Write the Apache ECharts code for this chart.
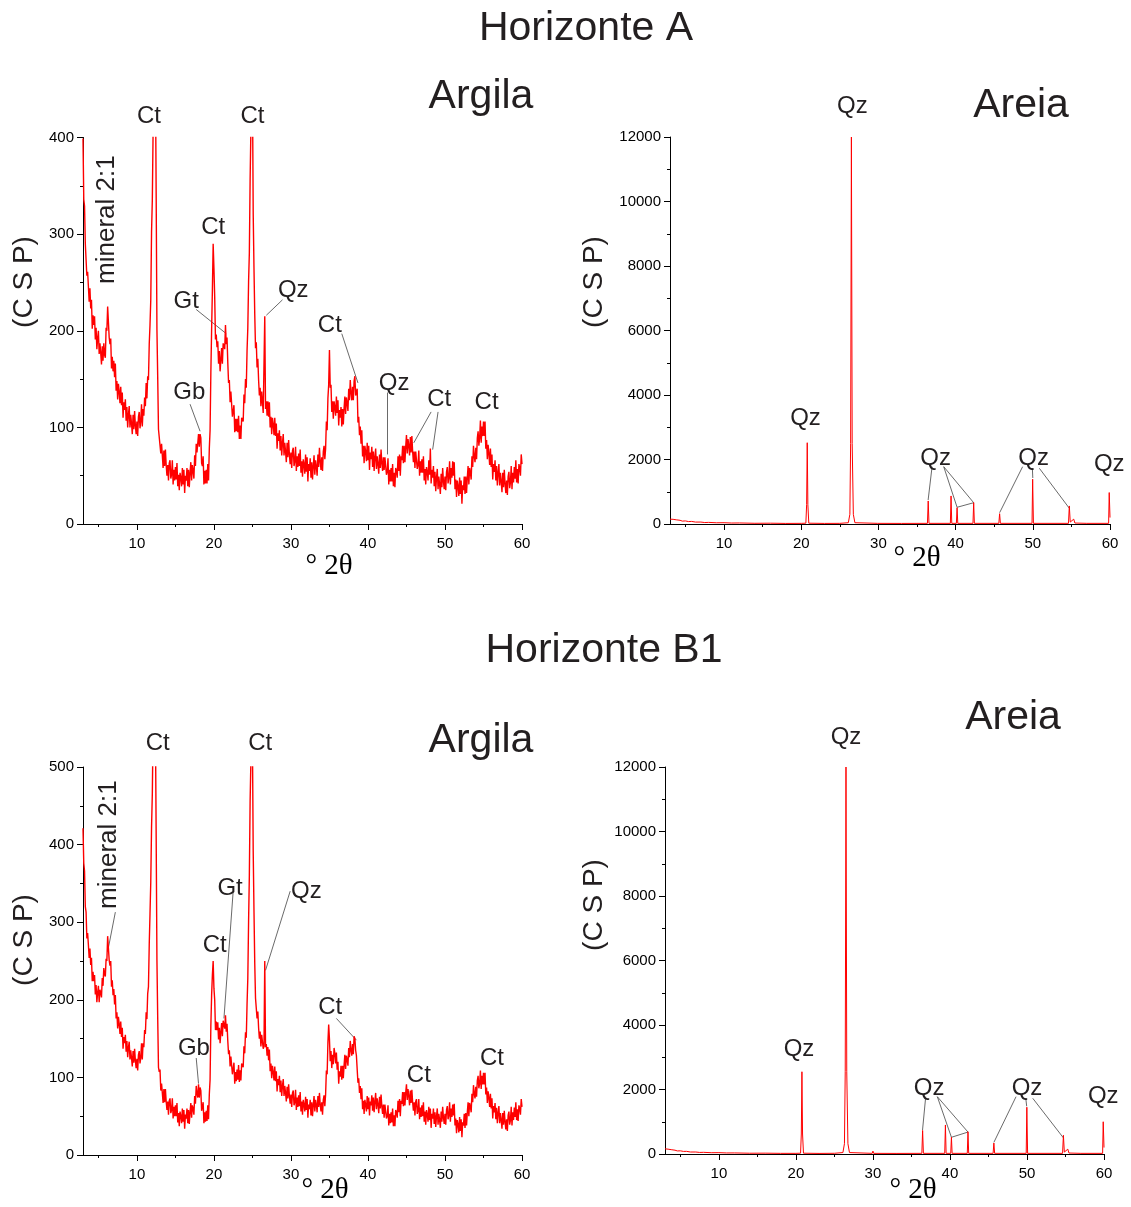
<!DOCTYPE html>
<html>
<head>
<meta charset="utf-8">
<script src="https://cdn.jsdelivr.net/npm/echarts@6/dist/echarts.min.js"></script>
<style>
html,body{margin:0;padding:0;background:#fff;}
#chart{width:1131px;height:1207px;}
</style>
</head>
<body>
<div id="chart"></div>
<script>
// ---- scan grid of the clay (Argila) patterns: 3.0 .. 60.0 °2θ, step 0.1 ----
const scanStart = 3;
const scanStep = 0.1;

// Horizonte A - Argila (counts per step)
const clayA = [
399,336,329,290,288,257,261,246,230,244,
223,232,202,216,206,215,191,203,181,192,
200,176,187,177,165,184,169,187,175,172,
203,200,225,223,193,186,192,161,173,158,
169,152,166,138,148,129,145,137,125,142,
123,136,110,126,118,129,107,121,100,113,
122,100,113,104,93,113,98,117,102,93,
106,91,111,116,99,106,124,101,119,112,
131,122,146,130,153,149,186,206,232,302,
335,405,466,524,468,341,201,152,98,97,
100,73,83,71,58,76,60,77,61,50,
61,45,63,66,47,51,66,41,56,45,
59,46,63,39,51,35,53,48,39,58,
41,56,32,50,45,58,39,56,38,53,
64,45,61,55,47,71,60,83,74,72,
93,80,93,89,63,60,70,41,55,42,
56,42,62,45,78,97,156,201,242,290,
265,235,191,196,183,189,166,179,158,170,
182,166,187,185,181,206,186,193,167,146,
149,126,137,135,111,111,123,95,109,96,
109,95,112,88,102,88,110,109,106,134,
125,150,141,179,203,251,281,357,408,482,
452,321,265,217,182,188,162,171,149,133,
141,122,137,137,115,116,215,119,127,112,
127,111,126,100,111,93,110,103,92,110,
91,104,78,94,86,97,76,91,71,84,
93,71,84,75,64,84,69,87,72,62,
74,58,76,79,60,65,80,55,70,59,
73,60,77,53,65,49,67,62,52,72,
54,69,44,62,55,68,48,64,46,60,
71,51,66,59,50,72,59,79,65,56,
69,55,75,81,67,78,106,97,130,144,
180,141,144,116,127,109,127,121,112,132,
115,128,102,118,110,121,101,119,103,120,
132,114,131,125,117,140,128,149,136,128,
142,128,148,153,133,133,140,105,111,92,
101,83,97,70,81,63,81,75,65,84,
66,81,56,74,67,80,59,75,55,69,
78,57,70,62,52,72,58,77,63,55,
69,56,69,71,51,54,68,41,56,44,
58,44,62,39,53,38,58,55,48,70,
55,72,50,70,66,81,63,81,64,80,
92,73,88,81,71,90,74,91,75,64,
75,58,75,77,57,61,76,50,65,53,
67,53,70,45,57,41,59,54,45,66,
51,78,42,56,48,60,39,54,34,48,
57,36,49,41,31,52,38,58,44,36,
49,35,54,59,42,48,65,41,58,48,
65,50,64,36,46,28,45,39,29,48,
31,45,21,40,35,49,31,49,32,48,
60,41,58,53,46,70,59,81,70,64,
79,67,89,96,81,89,107,84,101,91,
106,91,106,78,87,67,82,73,61,78,
59,72,46,62,54,66,45,60,40,53,
62,40,53,44,33,53,38,56,42,32,
45,30,49,54,37,43,60,36,53,43,
59,47,66,43,57,42,62,58,50,72,
62
];

// Horizonte B1 - Argila
const clayB1 = [
421,376,366,320,313,279,286,271,254,266,
245,254,224,236,224,232,207,219,197,209,
218,197,213,209,203,228,218,241,233,230,
253,250,282,281,251,244,250,217,225,206,
214,194,206,176,184,163,178,169,156,172,
152,164,137,152,144,155,133,147,126,138,
146,123,135,125,114,134,119,137,122,112,
124,109,129,134,118,125,144,123,144,139,
161,156,184,175,208,217,271,311,352,422,
465,550,606,654,558,411,251,177,113,107,
110,83,92,80,67,85,68,85,69,58,
69,52,70,73,54,58,73,47,62,50,
64,50,67,42,54,37,56,50,41,60,
43,58,34,52,47,60,41,58,40,55,
67,48,64,59,52,76,66,89,79,74,
91,74,87,83,57,56,68,41,55,43,
57,44,64,46,78,97,166,206,232,250,
215,200,161,172,161,171,149,164,144,158,
170,153,173,171,163,180,159,169,147,130,
135,114,127,126,104,106,119,92,107,95,
110,97,116,94,109,96,118,117,113,140,
131,158,151,194,228,301,361,457,508,562,
532,391,315,247,202,203,176,185,164,150,
159,140,155,157,137,140,250,139,143,128,
139,122,136,108,118,99,115,107,96,114,
95,108,82,98,90,102,81,96,76,89,
98,76,89,80,69,88,73,91,76,66,
78,62,80,83,64,68,84,58,74,62,
77,63,81,56,69,52,71,65,56,75,
58,72,48,65,59,71,51,68,50,65,
76,56,71,64,55,76,62,80,65,56,
68,52,71,77,63,78,109,104,145,168,
149,121,134,112,129,117,138,131,118,132,
110,120,92,108,101,115,97,115,99,116,
129,111,128,123,115,138,126,147,135,128,
143,130,153,150,135,128,130,93,99,80,
89,72,86,59,70,53,71,65,56,76,
59,74,51,69,64,77,57,74,55,69,
80,59,73,65,54,75,60,78,63,53,
65,48,65,67,47,50,64,38,53,41,
55,42,60,37,51,37,58,55,48,70,
55,72,50,70,66,81,63,81,64,80,
91,71,85,76,64,83,67,84,68,57,
68,51,69,72,53,57,72,46,61,49,
64,50,68,43,56,39,58,52,43,62,
45,60,35,53,47,60,40,55,36,50,
60,39,53,45,35,56,43,62,48,40,
53,39,58,63,46,51,68,43,60,49,
65,51,66,38,47,28,45,39,29,49,
31,46,23,42,38,53,35,54,38,55,
68,50,67,62,55,79,68,90,79,73,
88,75,96,102,86,92,109,85,102,91,
106,91,106,78,87,67,82,74,62,79,
60,73,47,63,55,67,46,61,41,54,
63,41,54,45,34,54,39,57,43,33,
46,31,51,56,39,45,62,38,55,45,
61,49,68,45,59,44,64,60,52,72,
62
];

// Horizonte A - Areia ([°2θ, counts])
const sandA = [
[3,150],[3.2,120],[3.4,145],[3.6,115],[3.8,130],[4,105],[4.3,115],[4.6,90],[5,95],[5.4,75],
[5.8,80],[6.3,60],[7,60],[7.5,45],[8,50],[9,38],[10,40],[11,30],[12,32],[14,22],[16,25],[18,18],
[20,20],[20.6,25],[20.7,600],[20.78,2520],[20.86,600],[20.98,25],[23,18],[25,20],
[26.1,40],[26.3,300],[26.4,2500],[26.5,12000],[26.6,2500],[26.75,300],[26.95,40],
[29.9,20],[30,80],[30.1,20],[33,18],
[36.35,20],[36.45,715],[36.55,20],[39.32,20],[39.41,870],[39.5,20],
[40.1,20],[40.19,507],[40.28,20],[42.25,20],[42.34,662],[42.43,20],
[45.6,20],[45.7,320],[45.8,20],[49.9,20],[49.98,1390],[50.08,20],
[54.62,20],[54.73,560],[54.85,60],[55.3,150],[55.45,30],[57,20],
[59.82,20],[59.9,975],[60,200]
];

// Horizonte B1 - Areia
const sandB1 = [
[3,160],[3.2,130],[3.4,150],[3.6,120],[3.8,135],[4,110],[4.3,118],[4.6,95],[5,98],[5.4,80],
[5.8,82],[6.3,62],[7,62],[7.5,48],[8,52],[9,40],[10,42],[11,32],[12,33],[14,24],[16,26],[18,20],
[20,20],[20.6,25],[20.7,620],[20.78,2550],[20.86,620],[20.98,25],[23,18],[25,22],
[26.1,45],[26.3,320],[26.4,2550],[26.5,12000],[26.6,2550],[26.75,320],[26.95,45],
[29.9,20],[30,90],[30.1,20],[33,18],
[36.35,20],[36.45,730],[36.55,20],[39.32,20],[39.41,900],[39.5,20],
[40.1,20],[40.19,520],[40.28,20],[42.25,20],[42.34,690],[42.43,20],
[45.6,20],[45.7,340],[45.8,20],[49.9,20],[49.98,1450],[50.08,20],
[54.62,20],[54.73,580],[54.85,60],[55.3,150],[55.45,30],[57,20],
[59.82,20],[59.9,1000],[60,200]
];

// axis ticks
const xLabelValues = [10, 20, 30, 40, 50, 60];
const xMinorValues = [5, 15, 25, 35, 45, 55];

// annotations: [text, °2θ, counts, rotation]
const notesClayA = [
['Ct',11.57,422],['Ct',25.0,422],['mineral 2:1',6.09,315,90],['Ct',19.9,307],['Gt',16.4,230],
['Qz',30.3,242],['Gb',16.8,136],['Ct',35.05,206],['Qz',43.4,146],['Ct',49.25,129],['Ct',55.4,126]
];
const leadersClayA = [
[[17.7,222],[21.6,197]],[[28.9,232],[26.8,216]],[[16.9,124],[18.2,96]],[[36.6,197],[38.7,146]],
[[42.45,136],[42.45,72]],[[48.2,116],[45.95,84]],[[49.1,116],[48.4,77]]
];
const notesSandA = [
['Qz',26.62,12960],['Qz',20.55,3290],['Qz',37.4,2047],['Qz',50.1,2047],['Qz',59.9,1860]
];
const leadersSandA = [
[[36.95,1777],[36.44,744]],[[38.46,1777],[40.19,518]],[[38.46,1777],[42.34,660]],[[40.19,518],[42.34,660]],
[[48.68,1777],[45.7,350]],[[49.94,1736],[50.0,1427]],[[50.85,1727],[54.73,487]]
];
const notesClayB1 = [
['Ct',12.7,530],['Ct',26.0,530],['mineral 2:1',6.3,400,90],['Gt',22.1,343],['Ct',20.1,270],
['Qz',32.0,340],['Gb',17.4,137],['Ct',35.1,190],['Ct',46.6,102],['Ct',56.1,124]
];
const leadersClayB1 = [
[[7.2,313],[6.2,262]],[[22.5,340],[21.3,176]],[[29.9,340],[26.7,238]],[[17.7,125],[18.0,92]],[[35.9,176],[38.5,148]]
];
const notesSandB1 = [
['Qz',26.5,12930],['Qz',20.4,3256],['Qz',37.3,2047],['Qz',50.0,2047],['Qz',59.9,1800]
];
const leadersSandB1 = [
[[36.85,1777],[36.44,744]],[[38.36,1777],[40.19,518]],[[38.36,1777],[42.34,680]],[[40.19,518],[42.34,680]],
[[48.58,1777],[45.7,360]],[[49.84,1736],[49.96,1480]],[[50.75,1727],[54.73,500]]
];

// ---------------------------------------------------------------
const toPairs = arr => arr.map((v, i) => [+(scanStart + i * scanStep).toFixed(2), v]);

const SANS = "'Liberation Sans', Arial, sans-serif";
const SERIF = "'Liberation Serif', 'Times New Roman', serif";
const INK = '#231f20';

const panels = [
  {grid:{left:83, top:137.5, width:439, height:386.5}, ymax:400, yint:100, data:toPairs(clayA), notes:notesClayA, leaders:leadersClayA, lw:1.4},
  {grid:{left:670, top:137, width:440, height:387}, ymax:12000, yint:2000, data:sandA, notes:notesSandA, leaders:leadersSandA, lw:1},
  {grid:{left:83, top:767, width:439, height:388}, ymax:500, yint:100, data:toPairs(clayB1), notes:notesClayB1, leaders:leadersClayB1, lw:1.4},
  {grid:{left:665, top:767, width:439, height:387}, ymax:12000, yint:2000, data:sandB1, notes:notesSandB1, leaders:leadersSandB1, lw:1}
];

const axisLineStyle = {color:'#000', width:1};
const grids = [], xAxes = [], yAxes = [], series = [];
panels.forEach((p, i) => {
  grids.push(Object.assign({containLabel:false}, p.grid));
  xAxes.push({
    type:'value', gridIndex:i, min:3, max:60,
    axisLine:{show:true, onZero:false, lineStyle:axisLineStyle},
    axisTick:{show:true, length:6, customValues:xLabelValues, lineStyle:axisLineStyle},
    axisLabel:{show:true, customValues:xLabelValues, fontSize:15, fontFamily:SANS, color:'#000', margin:12,
               formatter: v => String(v)},
    splitLine:{show:false}
  });
  xAxes.push({
    type:'value', gridIndex:i, min:3, max:60, position:'bottom', offset:0,
    axisLine:{show:false},
    axisTick:{show:true, length:3, customValues:xMinorValues, lineStyle:axisLineStyle},
    axisLabel:{show:false},
    splitLine:{show:false}
  });
  yAxes.push({
    type:'value', gridIndex:i, min:0, max:p.ymax, interval:p.yint,
    axisLine:{show:true, lineStyle:axisLineStyle},
    axisTick:{show:true, length:6, lineStyle:axisLineStyle},
    minorTick:{show:true, splitNumber:2, length:3, lineStyle:axisLineStyle},
    axisLabel:{fontSize:15, fontFamily:SANS, color:'#000', margin:9, formatter: v => String(v)},
    splitLine:{show:false}
  });
  series.push({
    type:'line', xAxisIndex:i*2, yAxisIndex:i, data:p.data,
    showSymbol:false, symbol:'none', clip:true, animation:false, sampling:null,
    lineStyle:{color:'#ff0000', width:p.lw}
  });
  series.push({
    type:'lines', coordinateSystem:'cartesian2d', xAxisIndex:i*2, yAxisIndex:i,
    data:p.leaders.map(c => ({coords:c})), animation:false, silent:true,
    lineStyle:{color:'#444', width:0.8, opacity:1, curveness:0}
  });
  series.push({
    type:'scatter', xAxisIndex:i*2, yAxisIndex:i, clip:false, symbolSize:0, silent:true, animation:false,
    itemStyle:{opacity:1},
    data:p.notes.map(n => ({name:n[0], value:[n[1], n[2]],
      label:{rotate:n[3] || 0, fontSize: n[3] ? 26 : 24}})),
    label:{show:true, position:'inside', formatter:'{b}', fontSize:24, fontFamily:SANS, color:INK, opacity:1},
    z:5
  });
});

const textEl = (txt, x, y, size, opts) => Object.assign({
  type:'text', x:x, y:y, silent:true,
  style:{text:txt, fontSize:size, fontFamily:SANS, fill:INK, align:'center', verticalAlign:'middle'}
}, opts || {});

const graphic = [
  textEl('Horizonte A', 586, 29, 41),
  textEl('Horizonte B1', 604, 651, 41),
  textEl('Argila', 481, 97, 41),
  textEl('Areia', 1021, 106, 41),
  textEl('Argila', 481, 741, 41),
  textEl('Areia', 1013, 718, 41),
  textEl('(C S P)', 24, 282, 28, {rotation:Math.PI/2}),
  textEl('(C S P)', 594, 282, 28, {rotation:Math.PI/2}),
  textEl('(C S P)', 24, 940, 28, {rotation:Math.PI/2}),
  textEl('(C S P)', 594, 905, 28, {rotation:Math.PI/2})
];
[[329,566],[917,558],[325,1190],[913,1190]].forEach(pos => {
  const el = textEl('\u00B0 2\u03B8', pos[0], pos[1], 29);
  el.style.fontFamily = SERIF;
  el.style.fill = '#000';
  graphic.push(el);
});

const chart = echarts.init(document.getElementById('chart'), null, {renderer:'canvas'});
chart.setOption({
  backgroundColor:'#ffffff',
  animation:false,
  grid:grids, xAxis:xAxes, yAxis:yAxes, series:series, graphic:graphic
});
</script>
</body>
</html>
